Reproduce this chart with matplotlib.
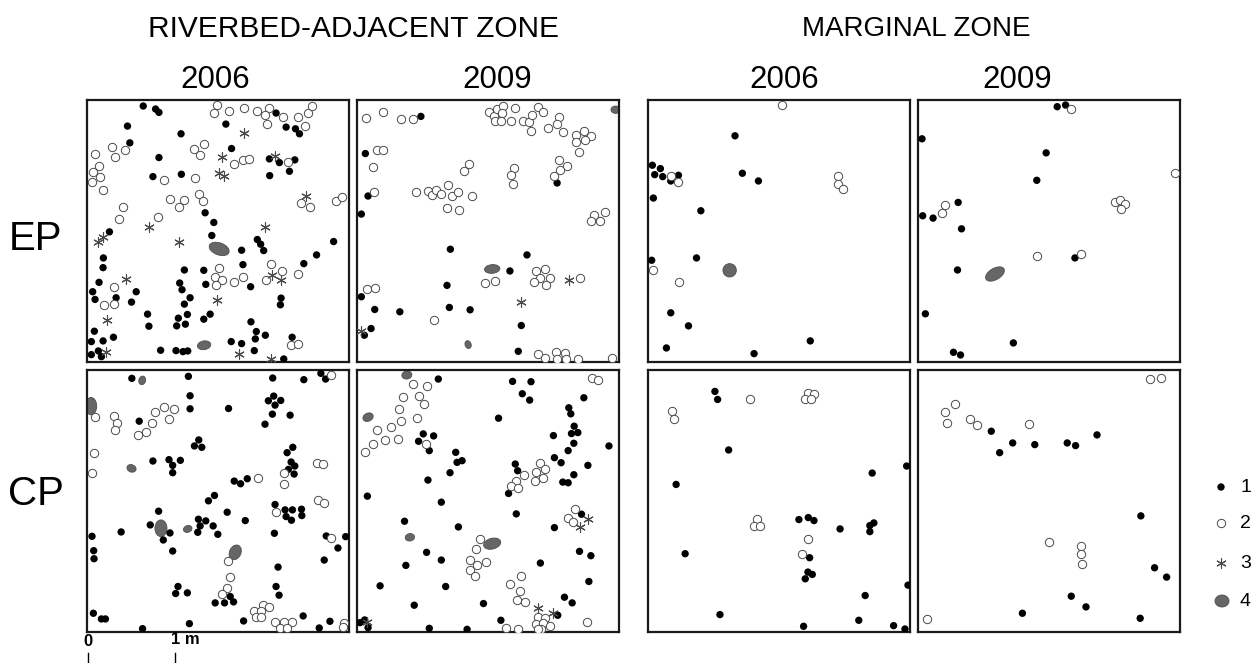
import numpy as np
import matplotlib
matplotlib.use("Agg")
import matplotlib.pyplot as plt
from matplotlib.patches import Ellipse

plt.rcParams['font.family'] = ['Liberation Sans', 'DejaVu Sans']

# Plot coordinates are read on a 783-unit grid per 3 m plot (261 units = 1 m),
# x from the left edge, y from the top edge.
GRID0, GRID1, UNIT_PER_M = 15, 798, 261.0

# ---------------- EP 2006 riverbed-adjacent ----------------
ep06_rb_t1 = [(183,33),(220,42),(230,52),(136,93),(296,116),(430,87),(580,54),(610,96),(638,101),(650,116),
              (143,143),(447,160),(230,187),(560,191),(590,202),(636,194),(620,228),(561,241),(212,244),(297,237),
              (368,352),(394,381),(388,420),(82,409),(524,432),(534,446),(543,465),(752,438),(701,478),(477,464),
              (481,507),(663,504),(64,487),(63,516),(306,523),(364,524),(51,560),(32,588),(39,611),(162,588),
              (102,606),(148,619),(292,562),(299,582),(323,606),(306,625),(370,566),(504,573),(595,607),(593,627),
              (196,655),(200,691),(288,667),(315,656),(283,690),(309,685),(364,670),(383,655),(505,678),(521,707),
              (548,718),(518,729),(37,706),(28,737),(63,735),(94,724),(446,737),(477,743),(628,724),(235,763),
              (281,764),(302,767),(316,765),(515,764),(603,789),(49,765),(28,776),(58,782)]
ep06_rb_t2 = [(404,30),(395,54),(440,49),(483,39),(522,48),(560,40),(547,60),(553,88),(602,66),(645,67),
              (676,53),(688,32),(667,93),(89,155),(100,185),(130,165),(38,177),(50,211),(34,230),(54,245),
              (30,260),(63,285),(334,160),(364,147),(353,180),(454,205),(480,193),(500,190),(616,200),(244,253),
              (338,248),(263,312),(305,315),(291,334),(351,296),(361,317),(123,334),(112,372),(228,364),(655,324),
              (682,334),(758,318),(776,305),(409,518),(397,545),(419,553),(402,567),(453,558),(480,545),(565,505),
              (597,525),(550,553),(646,535),(95,573),(66,628),(95,626),(626,748),(646,744)]
ep06_rb_t3 = [(485,115),(417,186),(578,183),(408,233),(425,242),(669,301),(201,394),(48,440),(64,425),(291,438),
              (547,396),(131,549),(567,537),(594,552),(403,613),(74,672),(72,769),(469,775),(565,790)]
ep06_rb_t4 = [(410,460,62,36,-20),(365,748,40,26,10)]   # x, y, width, height, angle

# ---------------- EP 2009 riverbed-adjacent ----------------
ep09_rb_t1 = [(206,64),(40,175),(48,302),(28,356),(613,263),(294,461),(523,478),(472,526),(284,569),(28,603),
              (68,641),(143,648),(291,635),(353,642),(57,698),(37,718),(506,689),(497,766)]
ep09_rb_t2 = [(42,68),(93,52),(146,72),(181,71),(410,50),(425,62),(434,42),(450,33),(447,55),(427,77),
              (446,77),(476,77),(488,40),(510,77),(528,82),(537,60),(557,35),(570,52),(535,107),(587,98),
              (619,66),(614,86),(631,111),(668,120),(693,108),(713,122),(696,134),(668,140),(677,169),(76,165),
              (92,165),(64,215),(335,226),(349,207),(485,217),(474,238),(480,266),(619,195),(643,211),(621,225),
              (603,242),(67,290),(190,290),(228,287),(238,300),(251,285),(267,296),(288,268),(299,303),(318,290),
              (359,301),(283,338),(321,343),(724,360),(741,377),(714,377),(756,349),(549,527),(577,520),(561,548),
              (545,560),(593,547),(579,567),(680,548),(398,561),(428,557),(45,579),(68,578),(246,672),(557,773),
              (578,785),(610,767),(637,771),(614,790),(641,790),(676,790),(776,785)]
ep09_rb_t3 = [(649,552),(505,620),(28,705)]
ep09_rb_t4 = [(419,520,46,26,5),(788,44,28,22,0),(347,746,18,24,20)]

# ---------------- EP 2006 marginal ----------------
ep06_mz_t1 = [(275,122),(28,210),(52,220),(35,238),(59,244),(83,257),(106,240),(297,234),(345,257),(31,308),
              (173,346),(26,494),(160,487),(83,651),(136,690),(70,756),(500,735),(332,773)]
ep06_mz_t2 = [(414,31),(84,241),(104,260),(583,243),(584,266),(597,282),(29,523),(109,558)]
ep06_mz_t3 = []
ep06_mz_t4 = [(259,524,40,40,0)]

# ---------------- EP 2009 marginal ----------------
ep09_mz_t1 = [(431,35),(456,30),(27,131),(398,173),(370,255),(135,321),(29,361),(60,368),(145,400),(484,487),
              (133,523),(37,654),(300,741),(121,769),(142,777)]
ep09_mz_t2 = [(472,43),(784,232),(96,330),(86,353),(605,319),(620,315),(634,326),(621,340),(372,480),(501,476)]
ep09_mz_t3 = []
ep09_mz_t4 = [(245,535,62,34,30)]

# ---------------- CP 2006 riverbed-adjacent ----------------
cp06_rb_t1 = [(149,40),(318,34),(570,39),(663,44),(714,25),(728,42),(323,92),(323,131),(438,130),(557,107),
              (573,93),(594,106),(577,120),(569,147),(622,150),(547,177),(171,168),(349,224),(336,242),(358,246),
              (630,246),(613,262),(212,287),(260,283),(294,285),(271,300),(271,322),(625,290),(636,302),(617,312),
              (634,326),(455,347),(474,355),(494,340),(396,390),(378,406),(229,437),(434,440),(577,417),(607,433),
              (629,433),(656,431),(610,453),(626,464),(657,450),(348,461),(370,466),(353,481),(346,500),(392,481),
              (406,506),(488,465),(204,478),(263,502),(243,523),(117,499),(30,512),(575,503),(730,511),(788,513),
              (765,547),(35,555),(36,579),(271,556),(724,583),(586,604),(287,662),(280,683),(315,681),(580,662),
              (589,688),(443,692),(398,711),(426,711),(453,708),(34,742),(58,759),(70,759),(483,765),(321,773),
              (181,788),(661,750),(741,766),(709,786)]
cp06_rb_t2 = [(745,30),(40,155),(96,152),(106,174),(98,194),(218,140),(245,126),(275,131),(260,161),(210,174),
              (191,199),(168,210),(35,263),(31,323),(526,339),(605,323),(603,357),(701,293),(720,296),(704,405),
              (722,413),(580,440),(744,516),(435,587),(443,635),(432,667),(418,683),(540,718),(560,722),(513,735),
              (534,736),(519,752),(536,754),(578,769),(603,769),(628,769),(592,786),(613,786),(784,770),(780,784)]
cp06_rb_t3 = []
cp06_rb_t4 = [(27,123,34,52,0),(180,46,20,26,-15),(148,309,28,22,-20),(236,488,36,50,0),(316,490,26,20,20),
              (458,560,34,46,-25)]

# ---------------- CP 2009 riverbed-adjacent ----------------
cp09_rb_t1 = [(258,42),(480,49),(535,50),(509,86),(531,105),(693,98),(438,159),(648,128),(654,146),(664,183),
              (656,205),(675,202),(663,234),(646,256),(602,211),(768,242),(213,206),(244,212),(199,228),(231,256),
              (310,261),(314,291),(329,286),(293,322),(488,296),(495,316),(605,277),(625,292),(705,300),(663,328),
              (630,350),(646,352),(468,384),(227,344),(46,392),(267,410),(491,445),(686,446),(157,467),(318,484),
              (605,486),(223,560),(267,583),(161,599),(563,592),(680,557),(714,570),(708,647),(84,660),(280,662),
              (186,718),(393,713),(635,694),(658,711),(615,748),(445,763),(231,787),(344,790),(24,770),(38,762),
              (48,785)]
cp09_rb_t2 = [(716,40),(736,45),(182,58),(225,63),(152,96),(201,93),(216,118),(141,131),(193,159),(146,168),
              (118,185),(75,194),(98,224),(139,220),(64,236),(39,261),(221,235),(563,294),(550,320),(578,311),
              (572,337),(548,348),(514,330),(489,348),(475,363),(497,367),(666,429),(647,457),(662,469),(384,521),
              (372,551),(354,583),(374,599),(401,590),(354,613),(368,632),(504,632),(471,656),(503,674),(492,703),
              (518,708),(557,752),(578,757),(551,773),(571,770),(591,780),(566,790),(556,790),(460,785),(497,790),
              (702,767)]
cp09_rb_t3 = [(705,461),(682,485),(555,727),(600,741),(45,768)]
cp09_rb_t4 = [(164,30,30,24,10),(48,156,32,24,25),(173,515,28,22,10),(419,534,52,32,15)]

# ---------------- CP 2006 marginal ----------------
cp06_mz_t1 = [(215,79),(223,103),(256,254),(99,357),(685,323),(788,302),(466,462),(494,456),(511,465),(589,490),
              (678,480),(690,472),(678,498),(126,564),(498,576),(493,619),(506,626),(485,639),(664,689),(792,658),
              (230,746),(480,781),(645,763),(749,779),(783,789)]
cp06_mz_t2 = [(87,138),(93,160),(319,101),(493,84),(510,86),(484,101),(502,103),(341,461),(332,482),(350,482),
              (493,520),(474,566)]
cp06_mz_t3 = []
cp06_mz_t4 = []

# ---------------- CP 2009 marginal ----------------
cp09_mz_t1 = [(234,198),(298,233),(259,262),(364,238),(461,233),(486,241),(550,209),(681,451),(722,606),(758,634),
              (473,691),(517,723),(327,742),(679,757)]
cp09_mz_t2 = [(709,43),(741,38),(126,117),(96,142),(103,173),(170,162),(191,180),(348,175),(407,530),(501,540),
              (502,564),(505,596),(41,758)]
cp09_mz_t3 = []
cp09_mz_t4 = []

zone_titles = ["RIVERBED-ADJACENT ZONE", "MARGINAL ZONE"]
year_labels = ["2006", "2009", "2006", "2009"]
row_labels = ["EP", "CP"]
legend_labels = ["1", "2", "3", "4"]
scale_labels = ["0", "1 m"]

panels = [
    [(ep06_rb_t1, ep06_rb_t2, ep06_rb_t3, ep06_rb_t4), (ep09_rb_t1, ep09_rb_t2, ep09_rb_t3, ep09_rb_t4),
     (ep06_mz_t1, ep06_mz_t2, ep06_mz_t3, ep06_mz_t4), (ep09_mz_t1, ep09_mz_t2, ep09_mz_t3, ep09_mz_t4)],
    [(cp06_rb_t1, cp06_rb_t2, cp06_rb_t3, cp06_rb_t4), (cp09_rb_t1, cp09_rb_t2, cp09_rb_t3, cp09_rb_t4),
     (cp06_mz_t1, cp06_mz_t2, cp06_mz_t3, cp06_mz_t4), (cp09_mz_t1, cp09_mz_t2, cp09_mz_t3, cp09_mz_t4)],
]


def to_m(pts):
    if len(pts) == 0:
        return np.empty(0), np.empty(0)
    a = np.asarray(pts, dtype=float)
    return (a[:, 0] - GRID0) / UNIT_PER_M, (GRID1 - a[:, 1]) / UNIT_PER_M


W, H = 1260, 663
fig = plt.figure(figsize=(W / 100, H / 100), dpi=100)

col_left = [87, 357, 648, 918]
row_top = [100, 370]
side = 262

S1, S2, S3 = 28, 36, 48
DOT_KW = dict(s=S1, c='black', edgecolors='none', zorder=3)
OPEN_KW = dict(s=S2, facecolors='white', edgecolors='#4a4a4a', linewidths=0.7, zorder=4)
STAR_KW = dict(s=S3, marker=(6, 2, 0), c='#4a4a4a', linewidths=0.8, zorder=4)
BLOB_KW = dict(facecolor='#666666', edgecolor='#4d4d4d', linewidth=0.6, zorder=2)

for r, row in enumerate(panels):
    for c, (t1, t2, t3, t4) in enumerate(row):
        ax = fig.add_axes([col_left[c] / W, 1 - (row_top[r] + side) / H, side / W, side / H])
        ax.set_xlim(0, 3)
        ax.set_ylim(0, 3)
        ax.set_xticks([])
        ax.set_yticks([])
        for sp in ax.spines.values():
            sp.set_linewidth(1.6)
            sp.set_color('#1a1a1a')
        for (bx, by, bw, bh, ang) in t4:
            ax.add_patch(Ellipse(((bx - GRID0) / UNIT_PER_M, (GRID1 - by) / UNIT_PER_M),
                                 bw / UNIT_PER_M, bh / UNIT_PER_M, angle=ang, **BLOB_KW))
        x, y = to_m(t1)
        ax.scatter(x, y, **DOT_KW)
        x, y = to_m(t2)
        ax.scatter(x, y, **OPEN_KW)
        x, y = to_m(t3)
        if len(x):
            ax.scatter(x, y, **STAR_KW)

# overlay for text, legend and scale bar (pixel coordinates)
ov = fig.add_axes([0, 0, 1, 1], zorder=10)
ov.set_xlim(0, W)
ov.set_ylim(H, 0)
ov.axis('off')
ov.patch.set_alpha(0)

ov.text(353, 29, zone_titles[0], ha='center', va='center', fontsize=21.5)
ov.text(916, 29, zone_titles[1], ha='center', va='center', fontsize=20)
year_x = [215, 497, 784, 1017]
for c in range(4):
    ov.text(year_x[c], 80, year_labels[c], ha='center', va='center', fontsize=22.5)
ov.text(36, 239, row_labels[0], ha='center', va='center', fontsize=29)
ov.text(36, 494, row_labels[1], ha='center', va='center', fontsize=29)

leg_y = [487, 523, 563, 601]
ov.scatter([1221], [leg_y[0]], s=S1, c='black', edgecolors='none')
ov.scatter([1221], [leg_y[1]], s=S2, facecolors='white', edgecolors='#4a4a4a', linewidths=0.7)
ov.scatter([1221], [leg_y[2]], s=S3, marker=(6, 2, 0), c='#4a4a4a', linewidths=0.8)
ov.add_patch(Ellipse((1222, leg_y[3]), 14, 12, **BLOB_KW))
for yy, lab in zip(leg_y, legend_labels):
    ov.text(1240, yy, lab, ha='left', va='center', fontsize=14)

# scale bar
ov.text(88, 642, scale_labels[0], ha='center', va='center', fontsize=12, fontweight='bold')
ov.text(171, 640, scale_labels[1], ha='left', va='center', fontsize=12, fontweight='bold')
ov.plot([88, 88], [653, 663], color='black', lw=1)
ov.plot([175, 175], [653, 663], color='black', lw=1)

fig.savefig('out.png', dpi=100)
